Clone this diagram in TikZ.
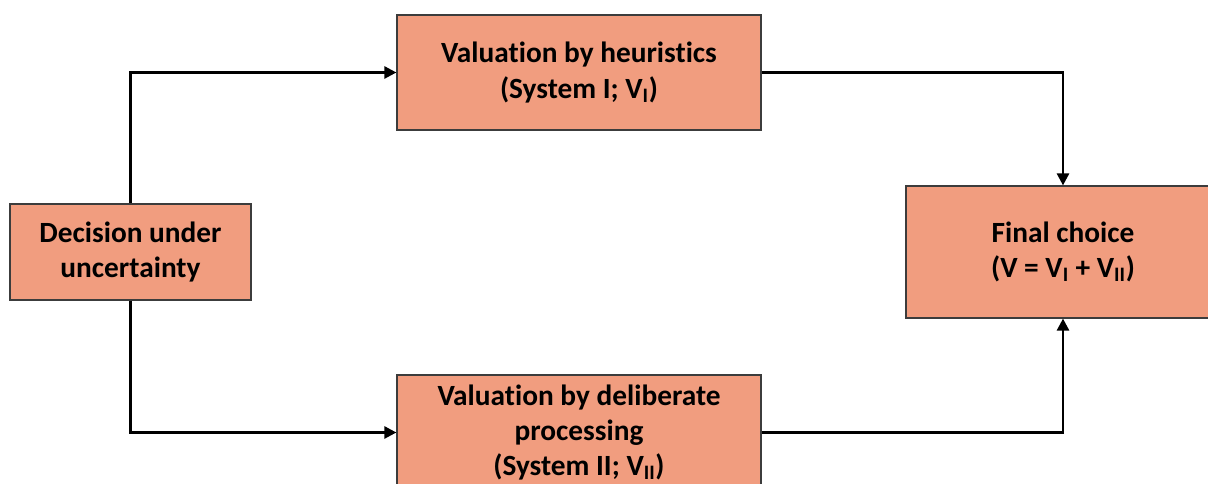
\documentclass[tikz,border=0pt]{standalone}
\usepackage{fontspec}
\setmainfont[Ligatures={NoCommon}]{Carlito}
\usetikzlibrary{arrows.meta}
\definecolor{boxfill}{RGB}{241,157,127}
\definecolor{boxline}{RGB}{60,60,60}
\tikzset{
  box/.style={draw=boxline, line width=0.9pt, fill=boxfill, align=center,
    font=\fontsize{22}{26.5}\selectfont\bfseries, inner sep=0pt},
  conn/.style={draw=black, line width=1.9pt,
    -{Triangle[length=9pt,width=9pt]}}
}
\begin{document}
\begin{tikzpicture}[x=0.75pt,y=-0.75pt]
\useasboundingbox (0,0) rectangle (1208,484);
\clip (0,0) rectangle (1208,484);
\node[box, minimum width=241*0.75pt, minimum height=96*0.75pt] (L) at (130.5,252) {Decision under\\uncertainty};
\node[box, minimum width=364*0.75pt, minimum height=115*0.75pt] (T) at (579,72.5) {Valuation by heuristics\\(System I; V\textsubscript{I})};
\node[box, minimum width=364*0.75pt, minimum height=115*0.75pt] (B) at (579,432.5) {Valuation by deliberate\\processing\\(System II; V\textsubscript{II})};
\node[box, minimum width=314*0.75pt, minimum height=132*0.75pt] (R) at (1063,252) {Final choice\\(V = V\textsubscript{I} + V\textsubscript{II})};
\draw[conn] (L.north) |- (T.west);
\draw[conn] (T.east) -| (R.north);
\draw[conn] (L.south) |- (B.west);
\draw[conn] (B.east) -| (R.south);
\end{tikzpicture}
\end{document}
